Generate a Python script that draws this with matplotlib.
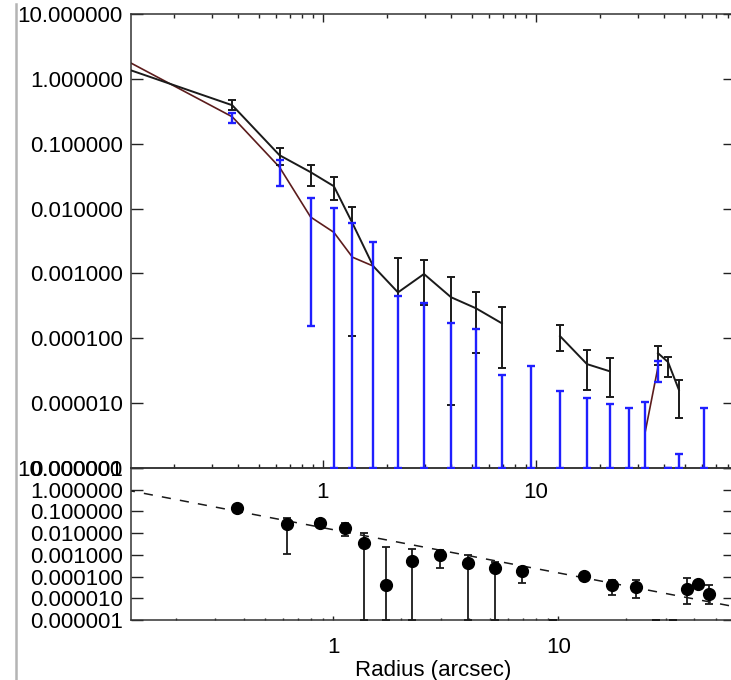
import numpy as np
import matplotlib.pyplot as plt
from matplotlib.ticker import FuncFormatter, FixedLocator, LogLocator, NullLocator
from matplotlib.lines import Line2D

plt.rcParams['font.family'] = ['Liberation Sans', 'DejaVu Sans']
plt.rcParams['font.size'] = 16

nan = np.nan

# radial bins (arcsec)
radius = [0.118, 0.375, 0.625, 0.875, 1.125, 1.375, 1.72, 2.25, 2.98, 3.99, 5.23,
          6.92, 9.48, 12.97, 17.35, 22.2, 27.3, 32.5, 37.4, 41.7, 46.9, 61.5]

# observed profile (black) with error bounds
data_val = [1.45, 0.392, 0.0665, 0.0364, 0.0221, 5.96e-3, 1.3e-3, 5.1e-4, 9.8e-4, 4.3e-4, 2.9e-4,
            1.7e-4, nan, 1.08e-4, 4.0e-5, 3.1e-5, nan, nan, 5.9e-5, 4.3e-5, 1.6e-5, nan]
data_hi = [1.6, 0.468, 0.085, 0.047, 0.0305, 0.0105, nan, 1.72e-3, 1.6e-3, 8.8e-4, 5.1e-4,
           3.0e-4, nan, 1.6e-4, 6.6e-5, 5.0e-5, nan, nan, 7.6e-5, 5.1e-5, 2.3e-5, nan]
data_lo = [1.2, 0.328, 0.047, 0.0225, 0.0134, 1.1e-4, nan, 0, 3.3e-4, 9.3e-6, 5.9e-5,
           3.5e-5, nan, 6.3e-5, 1.6e-5, 1.24e-5, nan, nan, 3.9e-5, 2.5e-5, 5.9e-6, nan]

# model profile (brown line) and its error bounds (blue)
model_val = [1.95, 0.26, 0.0435, 7.4e-3, 4.3e-3, 1.78e-3, 1.3e-3, nan, nan, nan, nan,
             nan, nan, nan, nan, nan, nan, 3.46e-6, 3.6e-5, nan, nan, nan]
model_hi = [2.05, 0.296, 0.0557, 0.0145, 0.0101, 5.96e-3, 3.0e-3, 4.47e-4, 3.5e-4, 1.7e-4, 1.38e-4,
            2.7e-5, 3.7e-5, 1.53e-5, 1.2e-5, 9.7e-6, 8.4e-6, 1.04e-5, 4.5e-5, 0, 1.64e-6, 8.4e-6]
model_lo = [1.7, 0.207, 0.0221, 1.55e-4, 0, 0, 0, 0, 0, 0, 0,
            0, 0, 0, 0, 0, 0, 0, 2.1e-5, 0, 0, 0]

# lower panel points
res_x = [0.375, 0.625, 0.875, 1.125, 1.375, 1.72, 2.25, 2.98, 3.99, 5.23, 6.92,
         9.48, 12.97, 17.35, 22.2, 27.3, 32.5, 37.4, 41.7, 46.9]
res_val = [0.145, 0.026, 0.030, 0.0174, 0.0035, 4.1e-5, 5.2e-4, 1.0e-3, 4.2e-4, 2.5e-4, 1.8e-4,
           nan, 1.07e-4, 4.1e-5, 3.3e-5, nan, nan, 2.7e-5, 4.6e-5, 1.6e-5]
res_hi = [0.2, 0.050, 0.046, 0.030, 0.0102, 2.3e-3, 1.9e-3, 1.7e-3, 1.0e-3, 4.7e-4, 2.8e-4,
          0, 1.3e-4, 7e-5, 7e-5, 0, 0, 8.6e-5, nan, 4.1e-5]
res_lo = [0.095, 1.1e-3, 0.019, 7.4e-3, 0, 0, 0, 2.5e-4, 0, 0, 5.1e-5,
          0, 7e-5, 1.4e-5, 1.0e-5, 0, 0, 5.4e-6, nan, 5.4e-6]

# dashed power-law guide (end points)
line_x = [0.12, 60]
line_y = [0.98, 4.2e-6]

yticks = [1e-6, 1e-5, 1e-4, 1e-3, 1e-2, 1e-1, 1, 10]
ymin = 1e-6


def bar_from_bounds(ax, x, lo, hi, color, lw, cap, z):
    lo = np.clip(np.array(lo, float), ymin, None)
    hi = np.clip(np.array(hi, float), ymin, None)
    ax.errorbar(x, hi, yerr=[hi - lo, np.zeros_like(hi)], fmt='none', ecolor=color,
                elinewidth=lw, capsize=cap, capthick=lw, zorder=z)


def style_axis(ax, xmaj, xmin_len):
    ax.set_xscale('log')
    ax.set_yscale('log')
    ax.set_ylim(ymin, 10)
    ax.yaxis.set_major_locator(FixedLocator(yticks))
    ax.yaxis.set_minor_locator(NullLocator())
    ax.yaxis.set_major_formatter(FuncFormatter(lambda v, p: f"{v:.6f}"))
    ax.xaxis.set_major_locator(FixedLocator([1, 10]))
    ax.xaxis.set_minor_locator(LogLocator(base=10, subs=np.arange(2, 10)))
    ax.xaxis.set_major_formatter(FuncFormatter(lambda v, p: f"{v:g}"))
    ax.xaxis.set_minor_formatter(FuncFormatter(lambda v, p: ""))
    ax.tick_params(axis='y', which='major', direction='in', length=8.6, width=1.0,
                   left=True, right=True, pad=6, colors='#222222', labelcolor='black')
    ax.tick_params(axis='x', which='major', direction='in', length=xmaj, width=1.0, pad=10,
                   colors='#222222', labelcolor='black')
    ax.tick_params(axis='x', which='minor', direction='in', length=xmin_len, width=1.0,
                   colors='#222222')
    for s in ax.spines.values():
        s.set_linewidth(1.1)
        s.set_color('#333333')


fig = plt.figure(figsize=(7.31, 6.80), dpi=100)
W, H = 731.0, 680.0
ax1 = fig.add_axes([131 / W, (H - 468) / H, (735 - 131) / W, (468 - 14) / H])
ax2 = fig.add_axes([131 / W, (H - 620) / H, (735 - 131) / W, (620 - 468) / H])
ax2.set_facecolor('none')
ax1.set_zorder(3)
ax1.set_facecolor('none')

# ---- top panel
style_axis(ax1, 6, 3)
ax1.tick_params(axis='x', which='both', top=True)
ax1.set_xlim(0.1255, 86)

ax1.plot(radius, model_val, color='#5c1c1c', lw=1.2, zorder=2)
dv = np.array(data_val, float)
dh = np.array(data_hi, float)
dl = np.clip(np.array(data_lo, float), ymin, None)
ax1.errorbar(radius, dv, yerr=[dv - dl, dh - dv], fmt='none', ecolor='#1a1a1a',
             elinewidth=1.4, capsize=2.8, capthick=1.4, zorder=3)
ax1.plot(radius, data_val, color='#1a1a1a', lw=1.4, zorder=4)
bar_from_bounds(ax1, radius, model_lo, model_hi, '#1f1fff', 1.7, 3.0, 5)

# ---- bottom panel
style_axis(ax2, 3, 1.8)
ax2.tick_params(axis='x', which='both', top=False, pad=12)
ax2.set_xlim(0.1265, 61)
ax2.plot(line_x, line_y, color='#1a1a1a', lw=1.1, linestyle=(0, (6, 6)), zorder=2)
bar_from_bounds(ax2, res_x, res_lo, res_hi, '#1a1a1a', 1.3, 3.2, 3)
ax2.plot(res_x, res_val, 'o', color='black', ms=8.5, zorder=4)
ax2.set_xlabel("Radius (arcsec)", labelpad=2)

# grey frame line on the left
fig.add_artist(Line2D([16 / W, 16 / W], [0, (H - 4) / H], color='#b4b4b4', lw=1.8))

fig.savefig('out.png', dpi=100)
